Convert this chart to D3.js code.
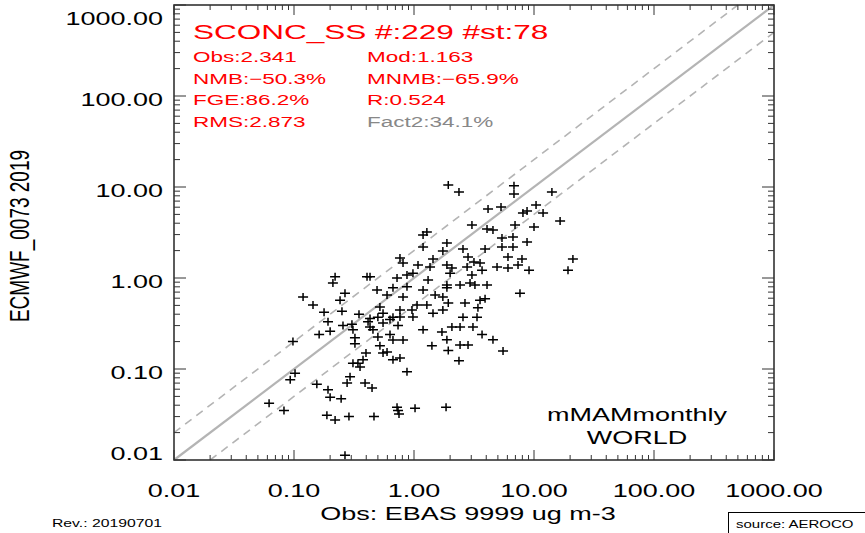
<!DOCTYPE html>
<html lang='en'>
<head>
<meta charset='UTF-8'>
<title>SCONC_SS scatter</title>
<script src='https://d3js.org/d3.v7.min.js'></script>
<style>
   body { margin: 0; background: #fff; }
   svg { display: block; }
   text { font-family: 'Liberation Sans', Arial, Helvetica, sans-serif; }
</style>
</head>
<body>
<div id='chart'></div>
<script>
   const obs = [
      1.93, 2.37, 6.81, 6.81, 14.1, 4.14, 5.31, 10.4, 8.75, 8.09,
      11.9, 16.5, 3.04, 4.06, 4.55, 6.95, 10.0, 1.28, 1.19, 5.41,
      6.68, 8.75, 1.88, 1.19, 1.74, 2.56, 3.91, 5.41, 6.68, 0.764,
      1.44, 2.82, 3.16, 3.55, 6.07, 7.94, 21.1, 0.81, 1.08, 1.36,
      1.88, 2.07, 2.77, 3.69, 4.92, 6.07, 7.36, 9.09, 19.2, 0.722,
      0.874, 0.98, 1.31, 2.0, 3.04, 1.88, 1.88, 2.42, 2.93, 3.22,
      4.06, 0.668, 0.874, 1.19, 1.50, 1.74, 7.64, 3.55, 3.91, 1.93,
      2.66, 0.596, 0.81, 1.06, 1.28, 0.962, 1.44, 1.74, 3.41, 2.56,
      3.35, 0.552, 0.764, 0.98, 1.19, 1.71, 2.07, 2.42, 3.10, 1.88,
      3.69, 4.55, 1.41, 2.42, 2.82, 1.93, 5.52, 2.37, 0.631, 0.668,
      0.81, 0.596, 0.668, 0.764, 0.552, 0.631, 0.22, 0.211, 0.406, 0.43,
      0.119, 0.144, 0.178, 0.251, 0.266, 0.242, 0.492, 0.348, 0.52, 0.50,
      0.414, 0.43, 0.192, 0.20, 0.256, 0.304, 0.31, 0.322, 0.322, 0.162,
      0.098, 0.398, 0.376, 0.341, 0.355, 0.50, 0.43, 0.455, 0.736, 0.668,
      0.764, 0.102, 0.093, 0.062, 0.0825, 0.155, 0.192, 0.20, 0.247, 0.277,
      0.293, 0.31, 0.874, 0.391, 0.447, 0.188, 0.22, 0.287, 0.464, 0.722,
      0.736, 0.75, 1.02, 1.85, 0.266, 0.52, 0.552
   ];
   const mod = [
      10.5, 8.8, 10.3, 8.4, 8.8, 5.73, 6.03, 6.34, 5.45, 5.18,
      5.18, 4.23, 3.82, 3.46, 3.37, 3.82, 3.63, 3.20, 2.97, 2.75,
      2.82, 2.49, 2.42, 2.19, 1.98, 2.08, 2.08, 2.19, 2.19, 1.66,
      1.62, 1.70, 1.50, 1.46, 1.70, 1.62, 1.62, 1.46, 1.39, 1.32,
      1.39, 1.29, 1.32, 1.22, 1.32, 1.29, 1.39, 1.22, 1.22, 1.00,
      1.08, 1.13, 0.95, 1.13, 1.08, 0.84, 0.78, 0.84, 0.88, 0.84,
      0.84, 0.78, 0.80, 0.74, 0.65, 0.62, 0.68, 0.57, 0.59, 0.53,
      0.53, 0.65, 0.62, 0.505, 0.505, 0.445, 0.41, 0.445, 0.47, 0.37,
      0.37, 0.41, 0.373, 0.373, 0.27, 0.255, 0.29, 0.29, 0.29, 0.21,
      0.24, 0.21, 0.18, 0.184, 0.184, 0.16, 0.158, 0.123, 0.24, 0.208,
      0.208, 0.154, 0.126, 0.132, 0.32, 0.35, 1.03, 0.88, 1.03, 1.03,
      0.62, 0.505, 0.42, 0.43, 0.68, 0.57, 0.74, 0.40, 0.48, 0.37,
      0.33, 0.36, 0.33, 0.26, 0.30, 0.31, 0.27, 0.22, 0.19, 0.24,
      0.20, 0.15, 0.126, 0.116, 0.105, 0.225, 0.29, 0.27, 0.30, 0.37,
      0.445, 0.090, 0.076, 0.042, 0.035, 0.068, 0.059, 0.049, 0.047, 0.070,
      0.082, 0.116, 0.093, 0.070, 0.062, 0.031, 0.0275, 0.030, 0.030, 0.038,
      0.035, 0.032, 0.037, 0.038, 0.0113, 0.18, 0.15
   ];

   const tickValues = [0.01, 0.1, 1, 10, 100, 1000];
   const tickLabels = ['0.01', '0.10', '1.00', '10.00', '100.00', '1000.00'];

   const titleText = 'SCONC_SS #:229 #st:78';
   const statsLeft = ['Obs:2.341', 'NMB:\u221250.3%', 'FGE:86.2%', 'RMS:2.873'];
   const statsRight = ['Mod:1.163', 'MNMB:\u221265.9%', 'R:0.524', 'Fact2:34.1%'];
   const regionLines = ['mMAMmonthly', 'WORLD'];

   const W = 865, H = 533;
   const SX = 1.5; // picture is stretched sideways

   const svg = d3.select('#chart').append('svg').attr('width', W).attr('height', H);

   const x = d3.scaleLog().domain([0.01, 1000]).range([174, 774]);
   const y = d3.scaleLog().domain([0.01, 1000]).range([460, 5]);

   // text helper: horizontal stretch like the original
   const label = (px, py, str, size, anchor, color) =>
      svg.append('text')
         .attr('transform', `translate(${px},${py}) scale(${SX},1)`)
         .attr('font-size', size)
         .attr('text-anchor', anchor)
         .attr('fill', color || '#000')
         .text(str);

   // 1:1 and factor-2 lines
   const line = d3.line().x(d => x(d[0])).y(d => y(d[1]));
   svg.append('path').attr('d', line([[0.01, 0.01], [1000, 1000]]))
      .attr('stroke', '#b4b4b4').attr('stroke-width', 2.2).attr('fill', 'none');
   svg.append('path').attr('d', line([[0.01, 0.02], [500, 1000]]))
      .attr('stroke', '#b4b4b4').attr('stroke-width', 1.6).attr('stroke-dasharray', '8,6').attr('fill', 'none');
   svg.append('path').attr('d', line([[0.02, 0.01], [1000, 500]]))
      .attr('stroke', '#b4b4b4').attr('stroke-width', 1.6).attr('stroke-dasharray', '8,6').attr('fill', 'none');

   // points as plus signs
   const pts = obs.map((o, i) => ({ o: o, m: mod[i] }));
   svg.append('g').selectAll('path').data(pts).enter().append('path')
      .attr('transform', d => `translate(${x(d.o)},${y(d.m)})`)
      .attr('d', 'M-5,0H5M0,-4V4')
      .attr('stroke', '#000')
      .attr('stroke-width', 1.5)
      .attr('fill', 'none');

   // frame
   svg.append('rect')
      .attr('x', x(0.01)).attr('y', y(1000))
      .attr('width', x(1000) - x(0.01)).attr('height', y(0.01) - y(1000))
      .attr('fill', 'none').attr('stroke', '#333').attr('stroke-width', 1.6);

   // log ticks on all four sides, pointing inward
   const allTicks = [];
   for (let d = 0.01; d < 1000; d *= 10) {
      for (let k = 1; k <= 9; k++) allTicks.push({ v: k * d, major: k === 1 });
   }
   allTicks.push({ v: 1000, major: true });
   const tg = svg.append('g').attr('stroke', '#333').attr('stroke-width', 1);
   allTicks.forEach(t => {
      const xl = t.major ? 10 : 5, yl = t.major ? 12 : 6;
      tg.append('line').attr('x1', x(t.v)).attr('x2', x(t.v)).attr('y1', y(0.01)).attr('y2', y(0.01) - xl);
      tg.append('line').attr('x1', x(t.v)).attr('x2', x(t.v)).attr('y1', y(1000)).attr('y2', y(1000) + xl);
      tg.append('line').attr('y1', y(t.v)).attr('y2', y(t.v)).attr('x1', x(0.01)).attr('x2', x(0.01) + yl);
      tg.append('line').attr('y1', y(t.v)).attr('y2', y(t.v)).attr('x1', x(1000)).attr('x2', x(1000) - yl);
   });

   // tick labels
   tickValues.forEach((v, i) => {
      label(x(v), 497, tickLabels[i], 18, 'middle');
      const ly = Math.min(Math.max(y(v) + 10, 25), 460);
      label(163, ly, tickLabels[i], 18, 'end');
   });

   // axis titles
   label(468, 520, 'Obs: EBAS 9999 ug m-3', 18, 'middle');
   svg.append('text')
      .attr('transform', `translate(29,236) scale(${SX},1) rotate(-90)`)
      .attr('font-size', 19)
      .attr('text-anchor', 'middle')
      .text('ECMWF_0073 2019');

   // statistics block
   label(193, 39, titleText, 21, 'start', '#ff0000');
   const rowY = [62, 84, 105, 127];
   statsLeft.forEach((s, i) => label(193, rowY[i], s, 15, 'start', '#ff0000'));
   statsRight.forEach((s, i) => label(367, rowY[i], s, 15, 'start', i === 3 ? '#888' : '#ff0000'));

   // region text
   label(637, 421, regionLines[0], 18, 'middle');
   label(637, 444, regionLines[1], 18, 'middle');

   // footer
   label(52, 527, 'Rev.: 20190701', 10.5, 'start');
   svg.append('rect').attr('x', 728.5).attr('y', 512.5).attr('width', 160).attr('height', 30)
      .attr('fill', 'none').attr('stroke', '#000').attr('stroke-width', 1);
   label(736, 528, 'source: AEROCO', 10, 'start');
</script>
</body>
</html>
